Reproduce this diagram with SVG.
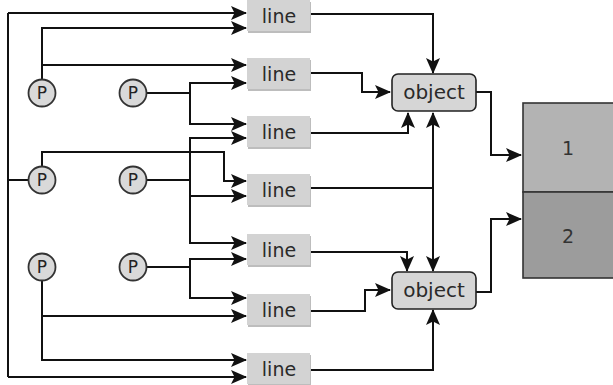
<svg xmlns="http://www.w3.org/2000/svg" width="613" height="385" viewBox="0 0 613 385">
<defs>
<marker id="ar" markerUnits="userSpaceOnUse" markerWidth="18" markerHeight="16" refX="15" refY="7" orient="auto">
<path d="M0,0 L16,7 L0,14 L3.5,7 z" fill="#111"/>
</marker>
<style>
.c{fill:none;stroke:#111;stroke-width:2}
.a{marker-end:url(#ar)}
.ln rect.b{fill:#d3d3d3}
.ln rect.s{fill:#bdbdbd}
.t{font-family:"DejaVu Sans",sans-serif;font-size:19px;fill:#2a2a2a;text-anchor:middle}
.o{font-family:"DejaVu Sans",sans-serif;font-size:20px;fill:#2a2a2a;text-anchor:middle}
.p circle{fill:#d9d9d9;stroke:#333;stroke-width:1.8}
.p text{font-family:"DejaVu Sans",sans-serif;font-size:17px;fill:#222;text-anchor:middle}
.obj rect{fill:#d6d6d6;stroke:#222;stroke-width:1.6}
.n{font-family:"DejaVu Sans",sans-serif;font-size:19px;fill:#333;text-anchor:middle}
</style>
</defs>
<rect width="613" height="385" fill="#fff"/>

<g id="connectors">
<path class="c" d="M8,13 V377"/>
<path class="c a" d="M8,13 H246"/>
<path class="c a" d="M8,377 H246"/>
<path class="c" d="M8,180 H29"/>
<path class="c a" d="M42,80 V28 H246"/>
<path class="c a" d="M42,65 H246"/>
<path class="c" d="M146,93 H190"/>
<path class="c a" d="M190,93 V83 H246"/>
<path class="c a" d="M190,93 V124 H246"/>
<path class="c a" d="M42,167 V152 H224 V181 H246"/>
<path class="c" d="M146,180 H190"/>
<path class="c a" d="M190,180 V138 H246"/>
<path class="c a" d="M190,196 H246"/>
<path class="c a" d="M190,180 V243 H246"/>
<path class="c a" d="M42,280 V360 H246"/>
<path class="c a" d="M42,316 H246"/>
<path class="c" d="M146,267 H190"/>
<path class="c a" d="M190,267 V259 H246"/>
<path class="c a" d="M190,267 V298 H246"/>
<path class="c a" d="M310,14 H433 V73"/>
<path class="c a" d="M310,73 H362 V92 H390"/>
<path class="c a" d="M310,133 H408 V113"/>
<path class="c" d="M310,188 H433"/>
<path class="c a" d="M433,188 V113"/>
<path class="c a" d="M433,188 V271"/>
<path class="c a" d="M310,252 H407 V271"/>
<path class="c a" d="M310,311 H365 V290 H390"/>
<path class="c a" d="M310,370 H433 V310"/>
<path class="c a" d="M476,92 H491 V155 H521"/>
<path class="c a" d="M476,292 H491 V219 H521"/>
</g>

<g id="line1" class="ln"><rect class="s" x="248" y="2" width="63" height="31"/><rect class="b" x="247" y="0" width="63" height="31"/><text class="t" x="279" y="23">line</text></g>
<g id="line2" class="ln"><rect class="s" x="248" y="60" width="63" height="31"/><rect class="b" x="247" y="58" width="63" height="31"/><text class="t" x="279" y="81">line</text></g>
<g id="line3" class="ln"><rect class="s" x="248" y="118" width="63" height="31"/><rect class="b" x="247" y="116" width="63" height="31"/><text class="t" x="279" y="139">line</text></g>
<g id="line4" class="ln"><rect class="s" x="248" y="176" width="63" height="31"/><rect class="b" x="247" y="174" width="63" height="31"/><text class="t" x="279" y="197">line</text></g>
<g id="line5" class="ln"><rect class="s" x="248" y="236" width="63" height="31"/><rect class="b" x="247" y="234" width="63" height="31"/><text class="t" x="279" y="257">line</text></g>
<g id="line6" class="ln"><rect class="s" x="248" y="296" width="63" height="31"/><rect class="b" x="247" y="294" width="63" height="31"/><text class="t" x="279" y="317">line</text></g>
<g id="line7" class="ln"><rect class="s" x="248" y="355" width="63" height="31"/><rect class="b" x="247" y="353" width="63" height="31"/><text class="t" x="279" y="376">line</text></g>

<g id="p1" class="p"><circle cx="42" cy="93" r="13.5"/><text x="42" y="99">P</text></g>
<g id="p2" class="p"><circle cx="133" cy="93" r="13.5"/><text x="133" y="99">P</text></g>
<g id="p3" class="p"><circle cx="42" cy="180" r="13.5"/><text x="42" y="186">P</text></g>
<g id="p4" class="p"><circle cx="133" cy="180" r="13.5"/><text x="133" y="186">P</text></g>
<g id="p5" class="p"><circle cx="42" cy="267" r="13.5"/><text x="42" y="273">P</text></g>
<g id="p6" class="p"><circle cx="133" cy="267" r="13.5"/><text x="133" y="273">P</text></g>

<g id="object1" class="obj"><rect x="392" y="74" width="84" height="37" rx="6"/><text class="o" x="434" y="99">object</text></g>
<g id="object2" class="obj"><rect x="392" y="272" width="84" height="37" rx="6"/><text class="o" x="434" y="297">object</text></g>

<g id="stack1"><rect x="523" y="103" width="92" height="89" fill="#b3b3b3" stroke="#333" stroke-width="1.6"/><text class="n" x="568" y="155">1</text></g>
<g id="stack2"><rect x="523" y="192" width="92" height="86" fill="#9c9c9c" stroke="#333" stroke-width="1.6"/><text class="n" x="568" y="243">2</text></g>
</svg>
